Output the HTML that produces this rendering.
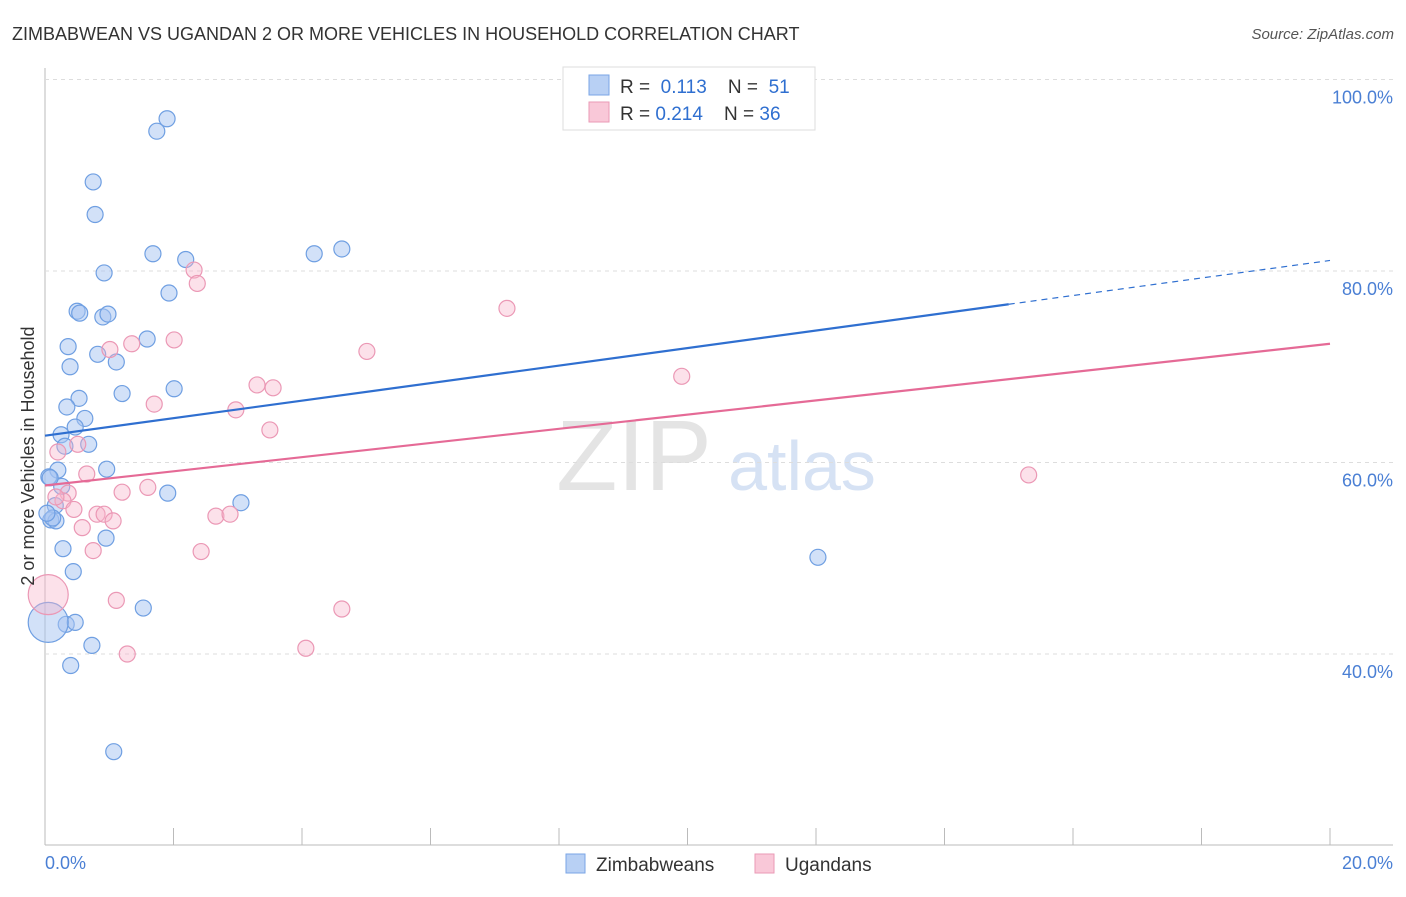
<!DOCTYPE html>
<html><head><meta charset="utf-8"><style>
body{margin:0;background:#fff;font-family:"Liberation Sans",sans-serif}
svg text{font-family:"Liberation Sans",sans-serif}
</style></head><body>
<svg id="c" width="1406" height="892">
<text x="12" y="40" font-size="18" fill="#333">ZIMBABWEAN VS UGANDAN 2 OR MORE VEHICLES IN HOUSEHOLD CORRELATION CHART</text>
<text x="1394" y="39" font-size="15" fill="#555" font-style="italic" text-anchor="end">Source: ZipAtlas.com</text>
<text x="634" y="490" font-size="100" fill="#e4e4e4" font-family="Liberation Serif" text-anchor="middle">ZIP</text>
<text x="802" y="490" font-size="70" fill="#d6e2f4" text-anchor="middle">atlas</text>
<g id="grid"></g><g id="marks"></g>
<text transform="translate(34,456) rotate(-90)" font-size="18" fill="#333" text-anchor="middle">2 or more Vehicles in Household</text>
<text x="45" y="869" font-size="18" fill="#4a7fd4">0.0%</text>
<text x="1393" y="869" font-size="18" fill="#4a7fd4" text-anchor="end">20.0%</text>
<g>
<rect x="563" y="67" width="252" height="63" fill="#fff" stroke="#ddd"/>
<rect x="589" y="75" width="20" height="20" fill="#b8d0f4" stroke="#7aa5e6"/>
<rect x="589" y="102" width="20" height="20" fill="#f9c8d8" stroke="#ea9ab6"/>
<text x="620" y="93" font-size="19" fill="#333">R = <tspan fill="#2f6fd0">&#160;0.113</tspan>&#160;&#160;&#160; N = <tspan fill="#2f6fd0">&#160;51</tspan></text>
<text x="620" y="120" font-size="19" fill="#333">R = <tspan fill="#2f6fd0">0.214</tspan>&#160;&#160;&#160; N = <tspan fill="#2f6fd0">36</tspan></text>
</g>
<g>
<rect x="566" y="854" width="19" height="19" fill="#b8d0f4" stroke="#7aa5e6"/>
<text x="596" y="871" font-size="19" fill="#333">Zimbabweans</text>
<rect x="755" y="854" width="19" height="19" fill="#f9c8d8" stroke="#ea9ab6"/>
<text x="785" y="871" font-size="19" fill="#333">Ugandans</text>
</g>
</svg>
<script>
const yTicks=[40,60,80,100];
const yTickLabels=["40.0%","60.0%","80.0%","100.0%"];
const xTicks=[0,2,4,6,8,10,12,14,16,18,20];
const blueX=[1.90,1.74,0.75,0.78,1.68,2.19,4.19,4.62,0.92,1.93,0.50,0.54,0.90,0.98,1.59,0.36,0.82,1.11,0.39,1.20,2.01,0.53,0.34,0.62,0.25,0.47,0.68,0.31,0.20,0.96,0.06,0.26,1.91,3.05,0.16,0.09,0.17,0.12,0.95,0.28,0.44,1.53,0.33,0.47,0.73,0.40,1.07,12.03,0.05,0.08,0.03];
const blueY=[95.9,94.6,89.3,85.9,81.8,81.2,81.8,82.3,79.8,77.7,75.8,75.6,75.2,75.5,72.9,72.1,71.3,70.5,70.0,67.2,67.7,66.7,65.8,64.6,62.9,63.7,61.9,61.7,59.2,59.3,58.5,57.5,56.8,55.8,55.5,54.0,53.9,54.2,52.1,51.0,48.6,44.8,43.1,43.3,40.9,38.8,29.8,50.1,43.3,58.4,54.7];
const blueBig=[48];
const pinkX=[2.32,2.37,7.19,2.01,1.35,1.01,5.01,9.91,3.30,3.55,1.70,2.97,3.50,0.51,0.20,0.65,1.60,1.20,0.36,0.28,0.45,0.81,0.92,1.06,2.66,2.88,0.58,0.75,2.43,1.11,4.62,1.28,4.06,15.31,0.05,0.17];
const pinkY=[80.1,78.7,76.1,72.8,72.4,71.8,71.6,69.0,68.1,67.8,66.1,65.5,63.4,61.9,61.1,58.8,57.4,56.9,56.8,56.0,55.1,54.6,54.6,53.9,54.4,54.6,53.2,50.8,50.7,45.6,44.7,40.0,40.6,58.7,46.2,56.4];
const pinkBig=[34];
const blueTrend=[62.8,81.1]; const blueSolidEnd=15.0;
const pinkTrend=[57.6,72.4];
const X0=45,X1=1330,YT=79.5,PX=9.575;
const sx=v=>X0+(v/20)*(X1-X0);
const sy=v=>YT+(100-v)*PX;
const NS="http://www.w3.org/2000/svg";
function mk(t,a,p){const e=document.createElementNS(NS,t);for(const k in a)e.setAttribute(k,a[k]);p.appendChild(e);return e;}
const g=document.getElementById('grid'),m=document.getElementById('marks');
mk('line',{x1:45,y1:68,x2:45,y2:845,stroke:'#bbb'},g);
mk('line',{x1:45,y1:845,x2:1393,y2:845,stroke:'#bbb'},g);
const topLine=mk('line',{x1:45,y1:sy(100),x2:1393,y2:sy(100),stroke:'#ddd','stroke-dasharray':'4,4'},g);


yTicks.forEach((t,i)=>{
 const l=mk('line',{x1:45,y1:sy(t),x2:1393,y2:sy(t),stroke:'#ddd','stroke-dasharray':'4,4'},g);
 
 
 const tx=mk('text',{x:1393,y:sy(t)+24,'font-size':18,fill:'#4a7fd4','text-anchor':'end'},g);
 tx.textContent=yTickLabels[i];
 
 
});
xTicks.forEach(t=>{
 const l=mk('line',{x1:sx(t),y1:828,x2:sx(t),y2:845,stroke:'#bbb'},g);
 
 
});
function pts(xs,ys,big,fill,stroke,name){
 xs.forEach((x,i)=>{
  const c=mk('circle',{cx:sx(x),cy:sy(ys[i]),r:big.includes(i)?20:8,fill:fill,stroke:stroke,'stroke-width':1.2},m);
  
  
 });
}
pts(blueX,blueY,blueBig,'rgba(165,195,242,0.5)','#6f9fe2','zimbabwean-point');
pts(pinkX,pinkY,pinkBig,'rgba(247,180,203,0.4)','#eb98b5','ugandan-point');
const by=x=>blueTrend[0]+(blueTrend[1]-blueTrend[0])*x/20;
const b1=mk('line',{x1:sx(0),y1:sy(by(0)),x2:sx(blueSolidEnd),y2:sy(by(blueSolidEnd)),stroke:'#2f6fd0','stroke-width':2.2},m);


const b2=mk('line',{x1:sx(blueSolidEnd),y1:sy(by(blueSolidEnd)),x2:sx(20),y2:sy(by(20)),stroke:'#2f6fd0','stroke-width':1.2,'stroke-dasharray':'6,5'},m);


const p1=mk('line',{x1:sx(0),y1:sy(pinkTrend[0]),x2:sx(20),y2:sy(pinkTrend[1]),stroke:'#e56a96','stroke-width':2.2},m);


</script>
</body></html>
